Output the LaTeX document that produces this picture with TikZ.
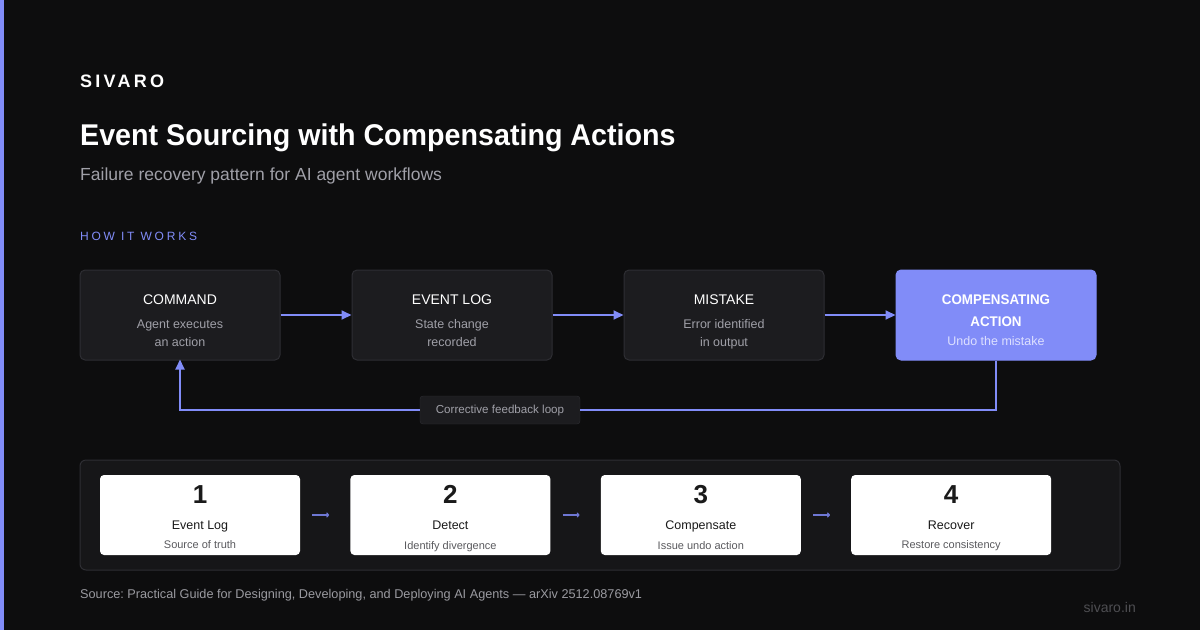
\documentclass[tikz,border=0pt]{standalone}
\usepackage{fontspec}
\setmainfont{Liberation Sans}
\newfontfamily\titlefont[FakeStretch=0.955]{Liberation Sans}
\newfontfamily\spacedfont[LetterSpace=18]{Liberation Sans}
\newfontfamily\widespacedfont[LetterSpace=23]{Liberation Sans}
\usepackage{xcolor}
\usetikzlibrary{arrows.meta, positioning}
\frenchspacing

\definecolor{bgdark}{HTML}{0D0D0E}
\definecolor{accent}{HTML}{818CF8}
\definecolor{boxfill}{HTML}{1C1C1F}
\definecolor{boxline}{HTML}{2E2E33}
\definecolor{panelfill}{HTML}{161618}
\definecolor{subgray}{HTML}{A0A0A8}
\definecolor{accentlight}{HTML}{DDE0FF}
\definecolor{cardtext}{HTML}{1A1A1A}
\definecolor{cardsub}{HTML}{5A5A5E}
\definecolor{footgray}{HTML}{9A9AA0}
\definecolor{markgray}{HTML}{4E4E52}

\begin{document}
\begin{tikzpicture}[
  x=1pt, y=-1pt,
  font=\fontsize{14}{17}\selectfont,
  node distance=71pt,
  flowbox/.style={
    draw=boxline,
    line width=1pt,
    fill=boxfill,
    rounded corners=5pt,
    minimum width=200pt,
    minimum height=90pt,
    inner sep=0pt
  },
  flowtext/.style={
    anchor=north,
    align=center,
    inner sep=0pt,
    text=subgray,
    font=\fontsize{12.5}{18.5}\selectfont
  },
  cardbox/.style={
    fill=white,
    rounded corners=4pt,
    minimum width=200pt,
    minimum height=80pt,
    inner sep=0pt
  },
  cardtext/.style={
    anchor=north,
    align=center,
    inner sep=0pt,
    text=cardsub,
    font=\fontsize{11}{18}\selectfont
  },
  arrow/.style={-{Triangle[length=10pt, width=9pt]}, accent, line width=2pt},
  smallarrow/.style={-{To[length=3pt, width=5pt]}, accent!85!black, line width=1.2pt}
]

\useasboundingbox (0,0) rectangle (1200,630);
\fill[bgdark] (0,0) rectangle (1200,630);
\fill[accent] (0,0) rectangle (4,630);

% En-tete
\node[anchor=west, inner sep=0pt, text=white] (brand) at (80,81)
  {\spacedfont\fontsize{18}{20}\selectfont\bfseries SIVARO};
\node[anchor=west, inner sep=0pt, text=white] (title) at (80,138)
  {\titlefont\fontsize{30}{34}\selectfont\bfseries Event Sourcing with Compensating Actions};
\node[anchor=west, inner sep=0pt, text=subgray] (subtitle) at (80,176)
  {\fontsize{17.5}{20}\selectfont Failure recovery pattern for AI agent workflows};
\node[anchor=west, inner sep=0pt, text=accent] (how) at (80,236)
  {\widespacedfont\fontsize{12}{14}\selectfont HOW IT WORKS};

% Flux
\node[flowbox] (command) at (180,315) {};
\node[flowbox, right=of command] (eventlog) {};
\node[flowbox, right=of eventlog] (mistake) {};
\node[flowbox, fill=accent, draw=accent, right=of mistake] (compensate) {};

\node[flowtext] (command-txt) at ([yshift=-25pt]command.north)
  {{\fontsize{14}{18}\selectfont\color{white}COMMAND}\\[5.5pt]Agent executes\\an action};
\node[flowtext] (eventlog-txt) at ([yshift=-25pt]eventlog.north)
  {{\fontsize{14}{18}\selectfont\color{white}EVENT LOG}\\[5.5pt]State change\\recorded};
\node[flowtext] (mistake-txt) at ([yshift=-25pt]mistake.north)
  {{\fontsize{14}{18}\selectfont\color{white}MISTAKE}\\[5.5pt]Error identified\\in output};
\node[flowtext, text=accentlight] (compensate-txt) at ([yshift=-25pt]compensate.north)
  {{\titlefont\fontsize{14}{18}\selectfont\bfseries\color{white}COMPENSATING}\\[3.5pt]
   {\titlefont\fontsize{14}{18}\selectfont\bfseries\color{white}ACTION}\\[0.5pt]Undo the mistake};

\draw[arrow] (command) -- (eventlog);
\draw[arrow] (eventlog) -- (mistake);
\draw[arrow] (mistake) -- (compensate);

% Boucle de retour
\node[draw=boxline, fill=boxfill, rounded corners=3pt, minimum width=160pt,
  minimum height=28pt, inner sep=0pt, text=subgray,
  font=\fontsize{11.6}{13}\selectfont] (loop) at (500,410) {Corrective feedback loop};
\draw[accent, line width=2pt] (compensate.south) |- (loop.east);
\draw[arrow, shorten >=-1pt] (loop.west) -| (command.south);

% Etapes
\node[draw=boxline, fill=panelfill, rounded corners=6pt, minimum width=1040pt,
  minimum height=110pt, line width=1pt] (panel) at (600,515) {};

\node[cardbox] (card1) at (200,515) {};
\node[cardbox, right=50pt of card1] (card2) {};
\node[cardbox, right=50pt of card2] (card3) {};
\node[cardbox, right=50pt of card3] (card4) {};

\node[cardtext] (card1-txt) at ([yshift=-10.5pt]card1.north)
  {{\fontsize{26}{30}\selectfont\bfseries\color{cardtext}1}\\[8pt]
   {\fontsize{12.5}{16}\selectfont\color{cardtext}Event Log}\\[1.5pt]Source of truth};
\node[cardtext] (card2-txt) at ([yshift=-10.5pt]card2.north)
  {{\fontsize{26}{30}\selectfont\bfseries\color{cardtext}2}\\[8pt]
   {\fontsize{12.5}{16}\selectfont\color{cardtext}Detect}\\[1.5pt]Identify divergence};
\node[cardtext] (card3-txt) at ([yshift=-10.5pt]card3.north)
  {{\fontsize{26}{30}\selectfont\bfseries\color{cardtext}3}\\[8pt]
   {\fontsize{12.5}{16}\selectfont\color{cardtext}Compensate}\\[1.5pt]Issue undo action};
\node[cardtext] (card4-txt) at ([yshift=-10.5pt]card4.north)
  {{\fontsize{26}{30}\selectfont\bfseries\color{cardtext}4}\\[8pt]
   {\fontsize{12.5}{16}\selectfont\color{cardtext}Recover}\\[1.5pt]Restore consistency};

\foreach \a/\b in {card1/card2, card2/card3, card3/card4}
  \draw[smallarrow] ([xshift=12pt]\a.east) -- ([xshift=-21pt]\b.west);

% Pied de page
\node[anchor=west, inner sep=0pt, text=footgray, font=\fontsize{12.7}{14}\selectfont] (source) at (80,595)
  {Source: Practical Guide for Designing, Developing, and Deploying AI Agents — arXiv 2512.08769v1};
\node[anchor=east, inner sep=0pt, text=markgray, font=\fontsize{14}{16}\selectfont] (site) at (1136,607) {sivaro.in};

\end{tikzpicture}
\end{document}
